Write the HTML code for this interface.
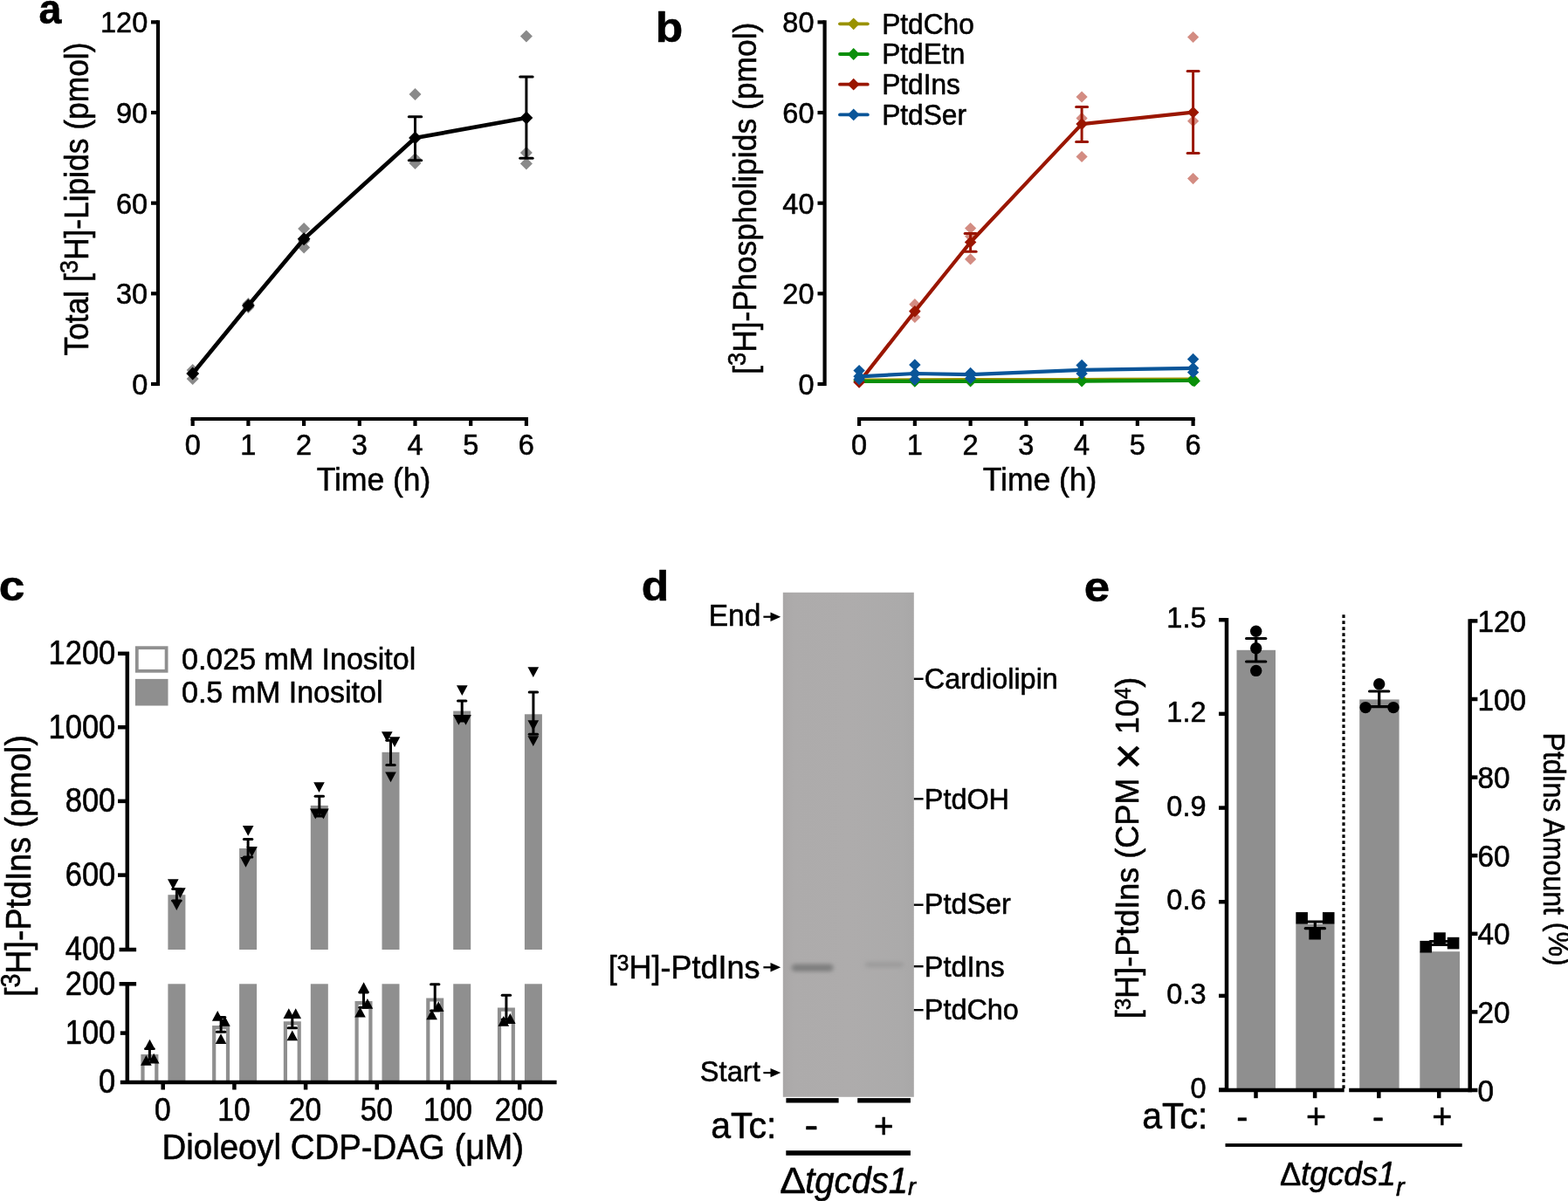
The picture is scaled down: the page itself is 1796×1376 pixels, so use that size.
<!DOCTYPE html>
<html><head><meta charset="utf-8"><title>Figure</title>
<style>
html,body{margin:0;padding:0;background:#fff;}
svg{display:block;}
text{font-family:'Liberation Sans', Arial, Helvetica, sans-serif;stroke:#000;stroke-width:0.55px;stroke-linejoin:round;}
</style></head>
<body>
<svg width="1796" height="1376" viewBox="0 0 1796 1376" font-family="'Liberation Sans', Arial, Helvetica, sans-serif">
<rect width="1796" height="1376" fill="#fff"/>
<text transform="translate(44.60 26.70) scale(0.97 1.0)" font-size="48" text-anchor="start" font-weight="bold" fill="#000" >a</text>
<line x1="181.00" y1="23.25" x2="181.00" y2="442.10" stroke="#000" stroke-width="4.2" stroke-linecap="butt" />
<line x1="173.00" y1="440.00" x2="181.00" y2="440.00" stroke="#000" stroke-width="4.2" stroke-linecap="butt" />
<text transform="translate(169.20 452.00) scale(1.0 1.04)" font-size="32.5" text-anchor="end" font-weight="normal" fill="#000" >0</text>
<line x1="173.00" y1="336.34" x2="181.00" y2="336.34" stroke="#000" stroke-width="4.2" stroke-linecap="butt" />
<text transform="translate(169.20 348.34) scale(1.0 1.04)" font-size="32.5" text-anchor="end" font-weight="normal" fill="#000" >30</text>
<line x1="173.00" y1="232.68" x2="181.00" y2="232.68" stroke="#000" stroke-width="4.2" stroke-linecap="butt" />
<text transform="translate(169.20 244.68) scale(1.0 1.04)" font-size="32.5" text-anchor="end" font-weight="normal" fill="#000" >60</text>
<line x1="173.00" y1="129.01" x2="181.00" y2="129.01" stroke="#000" stroke-width="4.2" stroke-linecap="butt" />
<text transform="translate(169.20 141.01) scale(1.0 1.04)" font-size="32.5" text-anchor="end" font-weight="normal" fill="#000" >90</text>
<line x1="173.00" y1="25.35" x2="181.00" y2="25.35" stroke="#000" stroke-width="4.2" stroke-linecap="butt" />
<text transform="translate(169.20 37.35) scale(1.0 1.04)" font-size="32.5" text-anchor="end" font-weight="normal" fill="#000" >120</text>
<line x1="218.60" y1="480.00" x2="605.00" y2="480.00" stroke="#000" stroke-width="4.2" stroke-linecap="butt" />
<line x1="220.70" y1="480.00" x2="220.70" y2="488.00" stroke="#000" stroke-width="4.2" stroke-linecap="butt" />
<text transform="translate(220.70 520.80) scale(1.0 1.04)" font-size="32.5" text-anchor="middle" font-weight="normal" fill="#000" >0</text>
<line x1="284.40" y1="480.00" x2="284.40" y2="488.00" stroke="#000" stroke-width="4.2" stroke-linecap="butt" />
<text transform="translate(284.40 520.80) scale(1.0 1.04)" font-size="32.5" text-anchor="middle" font-weight="normal" fill="#000" >1</text>
<line x1="348.10" y1="480.00" x2="348.10" y2="488.00" stroke="#000" stroke-width="4.2" stroke-linecap="butt" />
<text transform="translate(348.10 520.80) scale(1.0 1.04)" font-size="32.5" text-anchor="middle" font-weight="normal" fill="#000" >2</text>
<line x1="411.80" y1="480.00" x2="411.80" y2="488.00" stroke="#000" stroke-width="4.2" stroke-linecap="butt" />
<text transform="translate(411.80 520.80) scale(1.0 1.04)" font-size="32.5" text-anchor="middle" font-weight="normal" fill="#000" >3</text>
<line x1="475.50" y1="480.00" x2="475.50" y2="488.00" stroke="#000" stroke-width="4.2" stroke-linecap="butt" />
<text transform="translate(475.50 520.80) scale(1.0 1.04)" font-size="32.5" text-anchor="middle" font-weight="normal" fill="#000" >4</text>
<line x1="539.20" y1="480.00" x2="539.20" y2="488.00" stroke="#000" stroke-width="4.2" stroke-linecap="butt" />
<text transform="translate(539.20 520.80) scale(1.0 1.04)" font-size="32.5" text-anchor="middle" font-weight="normal" fill="#000" >5</text>
<line x1="602.90" y1="480.00" x2="602.90" y2="488.00" stroke="#000" stroke-width="4.2" stroke-linecap="butt" />
<text transform="translate(602.90 520.80) scale(1.0 1.04)" font-size="32.5" text-anchor="middle" font-weight="normal" fill="#000" >6</text>
<text transform="translate(428.00 561.50) scale(1.0 1.04)" font-size="35.4" text-anchor="middle" font-weight="normal" fill="#000" >Time (h)</text>
<text transform="translate(100.90 228.00) rotate(-90) scale(0.969 1.04)" font-size="36.5" text-anchor="middle">Total [<tspan font-size="28" dy="-11.2">3</tspan><tspan dy="11.2">H]-Lipids (pmol)</tspan></text>
<path d="M220.70 417.00L227.70 424.00L220.70 431.00L213.70 424.00Z" fill="#8a8a8a"/>
<path d="M220.70 427.00L227.70 434.00L220.70 441.00L213.70 434.00Z" fill="#8a8a8a"/>
<path d="M220.70 421.00L227.70 428.00L220.70 435.00L213.70 428.00Z" fill="#8a8a8a"/>
<path d="M284.40 341.00L291.40 348.00L284.40 355.00L277.40 348.00Z" fill="#8a8a8a"/>
<path d="M284.40 345.00L291.40 352.00L284.40 359.00L277.40 352.00Z" fill="#8a8a8a"/>
<path d="M348.10 255.00L355.10 262.00L348.10 269.00L341.10 262.00Z" fill="#8a8a8a"/>
<path d="M348.10 276.50L355.10 283.50L348.10 290.50L341.10 283.50Z" fill="#8a8a8a"/>
<path d="M348.10 269.00L355.10 276.00L348.10 283.00L341.10 276.00Z" fill="#8a8a8a"/>
<path d="M475.50 101.00L482.50 108.00L475.50 115.00L468.50 108.00Z" fill="#8a8a8a"/>
<path d="M475.50 175.00L482.50 182.00L475.50 189.00L468.50 182.00Z" fill="#8a8a8a"/>
<path d="M475.50 180.00L482.50 187.00L475.50 194.00L468.50 187.00Z" fill="#8a8a8a"/>
<path d="M602.90 34.50L609.90 41.50L602.90 48.50L595.90 41.50Z" fill="#8a8a8a"/>
<path d="M602.90 168.00L609.90 175.00L602.90 182.00L595.90 175.00Z" fill="#8a8a8a"/>
<path d="M602.90 180.50L609.90 187.50L602.90 194.50L595.90 187.50Z" fill="#8a8a8a"/>
<polyline points="220.70,428.00 284.40,350.00 348.10,273.75 475.50,158.00 602.90,135.00" fill="none" stroke="#000" stroke-width="4.7" stroke-linejoin="round"/>
<line x1="475.50" y1="133.75" x2="475.50" y2="183.75" stroke="#000" stroke-width="3" stroke-linecap="butt" />
<line x1="468.30" y1="133.75" x2="482.70" y2="133.75" stroke="#000" stroke-width="3" stroke-linecap="round" />
<line x1="468.30" y1="183.75" x2="482.70" y2="183.75" stroke="#000" stroke-width="3" stroke-linecap="round" />
<line x1="602.90" y1="88.00" x2="602.90" y2="181.25" stroke="#000" stroke-width="3" stroke-linecap="butt" />
<line x1="595.70" y1="88.00" x2="610.10" y2="88.00" stroke="#000" stroke-width="3" stroke-linecap="round" />
<line x1="595.70" y1="181.25" x2="610.10" y2="181.25" stroke="#000" stroke-width="3" stroke-linecap="round" />
<path d="M220.70 420.60L228.10 428.00L220.70 435.40L213.30 428.00Z" fill="#000"/>
<path d="M284.40 342.60L291.80 350.00L284.40 357.40L277.00 350.00Z" fill="#000"/>
<path d="M348.10 266.35L355.50 273.75L348.10 281.15L340.70 273.75Z" fill="#000"/>
<path d="M475.50 150.60L482.90 158.00L475.50 165.40L468.10 158.00Z" fill="#000"/>
<path d="M602.90 127.60L610.30 135.00L602.90 142.40L595.50 135.00Z" fill="#000"/>
<text transform="translate(750.80 47.80) scale(1.075 1.0)" font-size="48" text-anchor="start" font-weight="bold" fill="#000" >b</text>
<line x1="944.60" y1="23.30" x2="944.60" y2="442.10" stroke="#000" stroke-width="4.2" stroke-linecap="butt" />
<line x1="936.50" y1="440.00" x2="944.60" y2="440.00" stroke="#000" stroke-width="4.2" stroke-linecap="butt" />
<text transform="translate(932.50 452.00) scale(1.0 1.04)" font-size="32.5" text-anchor="end" font-weight="normal" fill="#000" >0</text>
<line x1="936.50" y1="336.35" x2="944.60" y2="336.35" stroke="#000" stroke-width="4.2" stroke-linecap="butt" />
<text transform="translate(932.50 348.35) scale(1.0 1.04)" font-size="32.5" text-anchor="end" font-weight="normal" fill="#000" >20</text>
<line x1="936.50" y1="232.70" x2="944.60" y2="232.70" stroke="#000" stroke-width="4.2" stroke-linecap="butt" />
<text transform="translate(932.50 244.70) scale(1.0 1.04)" font-size="32.5" text-anchor="end" font-weight="normal" fill="#000" >40</text>
<line x1="936.50" y1="129.05" x2="944.60" y2="129.05" stroke="#000" stroke-width="4.2" stroke-linecap="butt" />
<text transform="translate(932.50 141.05) scale(1.0 1.04)" font-size="32.5" text-anchor="end" font-weight="normal" fill="#000" >60</text>
<line x1="936.50" y1="25.40" x2="944.60" y2="25.40" stroke="#000" stroke-width="4.2" stroke-linecap="butt" />
<text transform="translate(932.50 37.40) scale(1.0 1.04)" font-size="32.5" text-anchor="end" font-weight="normal" fill="#000" >80</text>
<line x1="982.00" y1="480.00" x2="1368.70" y2="480.00" stroke="#000" stroke-width="4.2" stroke-linecap="butt" />
<line x1="984.10" y1="480.00" x2="984.10" y2="488.00" stroke="#000" stroke-width="4.2" stroke-linecap="butt" />
<text transform="translate(984.10 520.80) scale(1.0 1.04)" font-size="32.5" text-anchor="middle" font-weight="normal" fill="#000" >0</text>
<line x1="1047.85" y1="480.00" x2="1047.85" y2="488.00" stroke="#000" stroke-width="4.2" stroke-linecap="butt" />
<text transform="translate(1047.85 520.80) scale(1.0 1.04)" font-size="32.5" text-anchor="middle" font-weight="normal" fill="#000" >1</text>
<line x1="1111.60" y1="480.00" x2="1111.60" y2="488.00" stroke="#000" stroke-width="4.2" stroke-linecap="butt" />
<text transform="translate(1111.60 520.80) scale(1.0 1.04)" font-size="32.5" text-anchor="middle" font-weight="normal" fill="#000" >2</text>
<line x1="1175.35" y1="480.00" x2="1175.35" y2="488.00" stroke="#000" stroke-width="4.2" stroke-linecap="butt" />
<text transform="translate(1175.35 520.80) scale(1.0 1.04)" font-size="32.5" text-anchor="middle" font-weight="normal" fill="#000" >3</text>
<line x1="1239.10" y1="480.00" x2="1239.10" y2="488.00" stroke="#000" stroke-width="4.2" stroke-linecap="butt" />
<text transform="translate(1239.10 520.80) scale(1.0 1.04)" font-size="32.5" text-anchor="middle" font-weight="normal" fill="#000" >4</text>
<line x1="1302.85" y1="480.00" x2="1302.85" y2="488.00" stroke="#000" stroke-width="4.2" stroke-linecap="butt" />
<text transform="translate(1302.85 520.80) scale(1.0 1.04)" font-size="32.5" text-anchor="middle" font-weight="normal" fill="#000" >5</text>
<line x1="1366.60" y1="480.00" x2="1366.60" y2="488.00" stroke="#000" stroke-width="4.2" stroke-linecap="butt" />
<text transform="translate(1366.60 520.80) scale(1.0 1.04)" font-size="32.5" text-anchor="middle" font-weight="normal" fill="#000" >6</text>
<text transform="translate(1191.00 561.50) scale(1.0 1.04)" font-size="35.4" text-anchor="middle" font-weight="normal" fill="#000" >Time (h)</text>
<text transform="translate(865.80 227.20) rotate(-90) scale(0.977 1.04)" font-size="36.3" text-anchor="middle">[<tspan font-size="27.8" dy="-11.1">3</tspan><tspan dy="11.1">H]-Phospholipids (pmol)</tspan></text>
<line x1="962.00" y1="27.30" x2="993.80" y2="27.30" stroke="#999200" stroke-width="3.8" stroke-linecap="round" />
<path d="M977.70 20.40L984.60 27.30L977.70 34.20L970.80 27.30Z" fill="#999200"/>
<text transform="translate(1010.20 38.50) scale(0.99 1.06)" font-size="32" text-anchor="start" font-weight="normal" fill="#000" >PtdCho</text>
<line x1="962.00" y1="62.00" x2="993.80" y2="62.00" stroke="#0a8f0a" stroke-width="3.8" stroke-linecap="round" />
<path d="M977.70 55.10L984.60 62.00L977.70 68.90L970.80 62.00Z" fill="#0a8f0a"/>
<text transform="translate(1010.20 73.20) scale(0.99 1.06)" font-size="32" text-anchor="start" font-weight="normal" fill="#000" >PtdEtn</text>
<line x1="962.00" y1="96.70" x2="993.80" y2="96.70" stroke="#9a1600" stroke-width="3.8" stroke-linecap="round" />
<path d="M977.70 89.80L984.60 96.70L977.70 103.60L970.80 96.70Z" fill="#9a1600"/>
<text transform="translate(1010.20 107.90) scale(0.99 1.06)" font-size="32" text-anchor="start" font-weight="normal" fill="#000" >PtdIns</text>
<line x1="962.00" y1="131.40" x2="993.80" y2="131.40" stroke="#0a5599" stroke-width="3.8" stroke-linecap="round" />
<path d="M977.70 124.50L984.60 131.40L977.70 138.30L970.80 131.40Z" fill="#0a5599"/>
<text transform="translate(1010.20 142.60) scale(0.99 1.06)" font-size="32" text-anchor="start" font-weight="normal" fill="#000" >PtdSer</text>
<path d="M1047.85 342.10L1054.45 348.70L1047.85 355.30L1041.25 348.70Z" fill="#d38c82"/>
<path d="M1047.85 356.80L1054.45 363.40L1047.85 370.00L1041.25 363.40Z" fill="#d38c82"/>
<path d="M1047.85 349.40L1054.45 356.00L1047.85 362.60L1041.25 356.00Z" fill="#d38c82"/>
<path d="M1111.60 254.90L1118.20 261.50L1111.60 268.10L1105.00 261.50Z" fill="#d38c82"/>
<path d="M1111.60 264.20L1118.20 270.80L1111.60 277.40L1105.00 270.80Z" fill="#d38c82"/>
<path d="M1111.60 290.30L1118.20 296.90L1111.60 303.50L1105.00 296.90Z" fill="#d38c82"/>
<path d="M1239.10 104.40L1245.70 111.00L1239.10 117.60L1232.50 111.00Z" fill="#d38c82"/>
<path d="M1239.10 128.80L1245.70 135.40L1239.10 142.00L1232.50 135.40Z" fill="#d38c82"/>
<path d="M1239.10 172.90L1245.70 179.50L1239.10 186.10L1232.50 179.50Z" fill="#d38c82"/>
<path d="M1366.60 35.90L1373.20 42.50L1366.60 49.10L1360.00 42.50Z" fill="#d38c82"/>
<path d="M1366.60 132.10L1373.20 138.70L1366.60 145.30L1360.00 138.70Z" fill="#d38c82"/>
<path d="M1366.60 198.00L1373.20 204.60L1366.60 211.20L1360.00 204.60Z" fill="#d38c82"/>
<polyline points="984.10,435.60 1047.85,435.40 1111.60,435.20 1239.10,435.00 1366.60,434.60" fill="none" stroke="#999200" stroke-width="4.2" stroke-linejoin="round"/>
<path d="M984.10 428.80L990.90 435.60L984.10 442.40L977.30 435.60Z" fill="#999200"/>
<path d="M1047.85 428.60L1054.65 435.40L1047.85 442.20L1041.05 435.40Z" fill="#999200"/>
<path d="M1111.60 428.40L1118.40 435.20L1111.60 442.00L1104.80 435.20Z" fill="#999200"/>
<path d="M1239.10 428.20L1245.90 435.00L1239.10 441.80L1232.30 435.00Z" fill="#999200"/>
<path d="M1366.60 427.80L1373.40 434.60L1366.60 441.40L1359.80 434.60Z" fill="#999200"/>
<polyline points="984.10,437.00 1047.85,436.90 1111.60,436.80 1239.10,436.60 1366.60,436.00" fill="none" stroke="#0a8f0a" stroke-width="4.2" stroke-linejoin="round"/>
<path d="M984.10 430.20L990.90 437.00L984.10 443.80L977.30 437.00Z" fill="#0a8f0a"/>
<path d="M1047.85 430.10L1054.65 436.90L1047.85 443.70L1041.05 436.90Z" fill="#0a8f0a"/>
<path d="M1111.60 430.00L1118.40 436.80L1111.60 443.60L1104.80 436.80Z" fill="#0a8f0a"/>
<path d="M1239.10 429.80L1245.90 436.60L1239.10 443.40L1232.30 436.60Z" fill="#0a8f0a"/>
<path d="M1366.60 429.20L1373.40 436.00L1366.60 442.80L1359.80 436.00Z" fill="#0a8f0a"/>
<path d="M1368.10 429.70L1374.90 436.50L1368.10 443.30L1361.30 436.50Z" fill="#0a8f0a"/>
<path d="M1365.60 428.70L1372.40 435.50L1365.60 442.30L1358.80 435.50Z" fill="#0a8f0a"/>
<polyline points="984.10,438.00 1047.85,356.70 1111.60,277.50 1239.10,142.10 1366.60,128.70" fill="none" stroke="#9a1600" stroke-width="4.2" stroke-linejoin="round"/>
<line x1="1111.60" y1="267.50" x2="1111.60" y2="288.20" stroke="#9a1600" stroke-width="3" stroke-linecap="butt" />
<line x1="1105.10" y1="267.50" x2="1118.10" y2="267.50" stroke="#9a1600" stroke-width="3" stroke-linecap="round" />
<line x1="1105.10" y1="288.20" x2="1118.10" y2="288.20" stroke="#9a1600" stroke-width="3" stroke-linecap="round" />
<line x1="1239.10" y1="122.40" x2="1239.10" y2="162.50" stroke="#9a1600" stroke-width="3" stroke-linecap="butt" />
<line x1="1232.60" y1="122.40" x2="1245.60" y2="122.40" stroke="#9a1600" stroke-width="3" stroke-linecap="round" />
<line x1="1232.60" y1="162.50" x2="1245.60" y2="162.50" stroke="#9a1600" stroke-width="3" stroke-linecap="round" />
<line x1="1366.60" y1="81.60" x2="1366.60" y2="175.50" stroke="#9a1600" stroke-width="3" stroke-linecap="butt" />
<line x1="1360.10" y1="81.60" x2="1373.10" y2="81.60" stroke="#9a1600" stroke-width="3" stroke-linecap="round" />
<line x1="1360.10" y1="175.50" x2="1373.10" y2="175.50" stroke="#9a1600" stroke-width="3" stroke-linecap="round" />
<path d="M984.10 431.20L990.90 438.00L984.10 444.80L977.30 438.00Z" fill="#9a1600"/>
<path d="M1047.85 349.90L1054.65 356.70L1047.85 363.50L1041.05 356.70Z" fill="#9a1600"/>
<path d="M1111.60 270.70L1118.40 277.50L1111.60 284.30L1104.80 277.50Z" fill="#9a1600"/>
<path d="M1239.10 135.30L1245.90 142.10L1239.10 148.90L1232.30 142.10Z" fill="#9a1600"/>
<path d="M1366.60 121.90L1373.40 128.70L1366.60 135.50L1359.80 128.70Z" fill="#9a1600"/>
<path d="M984.10 417.90L990.80 424.60L984.10 431.30L977.40 424.60Z" fill="#0a5599"/>
<path d="M984.10 427.90L990.80 434.60L984.10 441.30L977.40 434.60Z" fill="#0a5599"/>
<path d="M1047.85 411.30L1054.55 418.00L1047.85 424.70L1041.15 418.00Z" fill="#0a5599"/>
<path d="M1047.85 428.30L1054.55 435.00L1047.85 441.70L1041.15 435.00Z" fill="#0a5599"/>
<path d="M1111.60 420.80L1118.30 427.50L1111.60 434.20L1104.90 427.50Z" fill="#0a5599"/>
<path d="M1111.60 426.90L1118.30 433.60L1111.60 440.30L1104.90 433.60Z" fill="#0a5599"/>
<path d="M1239.10 411.80L1245.80 418.50L1239.10 425.20L1232.40 418.50Z" fill="#0a5599"/>
<path d="M1239.10 421.30L1245.80 428.00L1239.10 434.70L1232.40 428.00Z" fill="#0a5599"/>
<path d="M1366.60 404.80L1373.30 411.50L1366.60 418.20L1359.90 411.50Z" fill="#0a5599"/>
<path d="M1366.60 419.90L1373.30 426.60L1366.60 433.30L1359.90 426.60Z" fill="#0a5599"/>
<polyline points="984.10,431.30 1047.85,428.00 1111.60,429.20 1239.10,423.80 1366.60,421.80" fill="none" stroke="#0a5599" stroke-width="4.2" stroke-linejoin="round"/>
<path d="M984.10 424.50L990.90 431.30L984.10 438.10L977.30 431.30Z" fill="#0a5599"/>
<path d="M1047.85 421.20L1054.65 428.00L1047.85 434.80L1041.05 428.00Z" fill="#0a5599"/>
<path d="M1111.60 422.40L1118.40 429.20L1111.60 436.00L1104.80 429.20Z" fill="#0a5599"/>
<path d="M1239.10 417.00L1245.90 423.80L1239.10 430.60L1232.30 423.80Z" fill="#0a5599"/>
<path d="M1366.60 415.00L1373.40 421.80L1366.60 428.60L1359.80 421.80Z" fill="#0a5599"/>
<text transform="translate(-1.20 688.30) scale(1.11 1.02)" font-size="48" text-anchor="start" font-weight="bold" fill="#000" >c</text>
<rect x="192.40" y="1127.30" width="20.00" height="110.70" fill="#8f8f8f" />
<rect x="192.40" y="1025.20" width="20.00" height="62.80" fill="#8f8f8f" />
<path d="M163.50 1238 V1210.10 H179.30 V1238" fill="none" stroke="#8f8f8f" stroke-width="4.2"/>
<rect x="274.10" y="1127.30" width="20.00" height="110.70" fill="#8f8f8f" />
<rect x="274.10" y="972.00" width="20.00" height="116.00" fill="#8f8f8f" />
<path d="M245.20 1238 V1177.10 H261.00 V1238" fill="none" stroke="#8f8f8f" stroke-width="4.2"/>
<rect x="355.80" y="1127.30" width="20.00" height="110.70" fill="#8f8f8f" />
<rect x="355.80" y="922.90" width="20.00" height="165.10" fill="#8f8f8f" />
<path d="M326.90 1238 V1172.40 H342.70 V1238" fill="none" stroke="#8f8f8f" stroke-width="4.2"/>
<rect x="437.50" y="1127.30" width="20.00" height="110.70" fill="#8f8f8f" />
<rect x="437.50" y="861.80" width="20.00" height="226.20" fill="#8f8f8f" />
<path d="M408.60 1238 V1149.20 H424.40 V1238" fill="none" stroke="#8f8f8f" stroke-width="4.2"/>
<rect x="519.20" y="1127.30" width="20.00" height="110.70" fill="#8f8f8f" />
<rect x="519.20" y="814.60" width="20.00" height="273.40" fill="#8f8f8f" />
<path d="M490.30 1238 V1145.50 H506.10 V1238" fill="none" stroke="#8f8f8f" stroke-width="4.2"/>
<rect x="600.90" y="1127.30" width="20.00" height="110.70" fill="#8f8f8f" />
<rect x="600.90" y="818.30" width="20.00" height="269.70" fill="#8f8f8f" />
<path d="M572.00 1238 V1156.70 H587.80 V1238" fill="none" stroke="#8f8f8f" stroke-width="4.2"/>
<line x1="145.80" y1="747.00" x2="145.80" y2="1088.00" stroke="#000" stroke-width="4.5" stroke-linecap="butt" />
<line x1="136.60" y1="1088.00" x2="156.10" y2="1088.00" stroke="#000" stroke-width="4.5" stroke-linecap="butt" />
<line x1="145.80" y1="1127.30" x2="145.80" y2="1240.00" stroke="#000" stroke-width="4.5" stroke-linecap="butt" />
<line x1="136.60" y1="1127.30" x2="156.10" y2="1127.30" stroke="#000" stroke-width="4.5" stroke-linecap="butt" />
<line x1="135.00" y1="1002.60" x2="145.80" y2="1002.60" stroke="#000" stroke-width="4.5" stroke-linecap="butt" />
<line x1="135.00" y1="917.90" x2="145.80" y2="917.90" stroke="#000" stroke-width="4.5" stroke-linecap="butt" />
<line x1="135.00" y1="833.20" x2="145.80" y2="833.20" stroke="#000" stroke-width="4.5" stroke-linecap="butt" />
<line x1="135.00" y1="748.80" x2="148.05" y2="748.80" stroke="#000" stroke-width="4.5" stroke-linecap="butt" />
<line x1="137.80" y1="1183.60" x2="145.80" y2="1183.60" stroke="#000" stroke-width="4.5" stroke-linecap="butt" />
<text transform="translate(132.30 1099.80) scale(1.0 1.1)" font-size="34.5" text-anchor="end" font-weight="normal" fill="#000" >400</text>
<text transform="translate(132.30 1015.10) scale(1.0 1.1)" font-size="34.5" text-anchor="end" font-weight="normal" fill="#000" >600</text>
<text transform="translate(132.30 930.40) scale(1.0 1.1)" font-size="34.5" text-anchor="end" font-weight="normal" fill="#000" >800</text>
<text transform="translate(132.30 845.70) scale(1.0 1.1)" font-size="34.5" text-anchor="end" font-weight="normal" fill="#000" >1000</text>
<text transform="translate(132.30 761.00) scale(1.0 1.1)" font-size="34.5" text-anchor="end" font-weight="normal" fill="#000" >1200</text>
<text transform="translate(132.30 1252.30) scale(1.0 1.1)" font-size="34.5" text-anchor="end" font-weight="normal" fill="#000" >0</text>
<text transform="translate(132.30 1196.10) scale(1.0 1.1)" font-size="34.5" text-anchor="end" font-weight="normal" fill="#000" >100</text>
<text transform="translate(132.30 1139.90) scale(1.0 1.1)" font-size="34.5" text-anchor="end" font-weight="normal" fill="#000" >200</text>
<line x1="137.80" y1="1240.00" x2="637.60" y2="1240.00" stroke="#000" stroke-width="4.5" stroke-linecap="butt" />
<line x1="186.70" y1="1240.00" x2="186.70" y2="1248.50" stroke="#000" stroke-width="4.5" stroke-linecap="butt" />
<text transform="translate(186.20 1284.00) scale(1.0 1.08)" font-size="33.5" text-anchor="middle" font-weight="normal" fill="#000" >0</text>
<line x1="268.40" y1="1240.00" x2="268.40" y2="1248.50" stroke="#000" stroke-width="4.5" stroke-linecap="butt" />
<text transform="translate(267.90 1284.00) scale(1.0 1.08)" font-size="33.5" text-anchor="middle" font-weight="normal" fill="#000" >10</text>
<line x1="350.10" y1="1240.00" x2="350.10" y2="1248.50" stroke="#000" stroke-width="4.5" stroke-linecap="butt" />
<text transform="translate(349.60 1284.00) scale(1.0 1.08)" font-size="33.5" text-anchor="middle" font-weight="normal" fill="#000" >20</text>
<line x1="431.80" y1="1240.00" x2="431.80" y2="1248.50" stroke="#000" stroke-width="4.5" stroke-linecap="butt" />
<text transform="translate(431.30 1284.00) scale(1.0 1.08)" font-size="33.5" text-anchor="middle" font-weight="normal" fill="#000" >50</text>
<line x1="513.50" y1="1240.00" x2="513.50" y2="1248.50" stroke="#000" stroke-width="4.5" stroke-linecap="butt" />
<text transform="translate(513.00 1284.00) scale(1.0 1.08)" font-size="33.5" text-anchor="middle" font-weight="normal" fill="#000" >100</text>
<line x1="595.20" y1="1240.00" x2="595.20" y2="1248.50" stroke="#000" stroke-width="4.5" stroke-linecap="butt" />
<text transform="translate(594.70 1284.00) scale(1.0 1.08)" font-size="33.5" text-anchor="middle" font-weight="normal" fill="#000" >200</text>
<text transform="translate(392.80 1328.30) scale(1.0 1.04)" font-size="38.4" text-anchor="middle" font-weight="normal" fill="#000" >Dioleoyl CDP-DAG (&#956;M)</text>
<text transform="translate(35.20 992.00) rotate(-90) scale(0.956 1.04)" font-size="39.3" text-anchor="middle">[<tspan font-size="30" dy="-12">3</tspan><tspan dy="12">H]-PtdIns (pmol)</tspan></text>
<rect x="156.80" y="742.20" width="33.80" height="26.60" fill="#fff" stroke="#8f8f8f" stroke-width="3.8"/>
<rect x="154.90" y="777.90" width="37.60" height="30.60" fill="#8f8f8f" />
<text transform="translate(208.00 766.70) scale(1.0 1.04)" font-size="34" text-anchor="start" font-weight="normal" fill="#000" >0.025 mM Inositol</text>
<text transform="translate(208.00 804.70) scale(1.0 1.04)" font-size="34" text-anchor="start" font-weight="normal" fill="#000" >0.5 mM Inositol</text>
<line x1="171.40" y1="1201.40" x2="171.40" y2="1214.00" stroke="#000" stroke-width="3" stroke-linecap="butt" />
<line x1="166.70" y1="1201.40" x2="176.10" y2="1201.40" stroke="#000" stroke-width="3" stroke-linecap="round" />
<line x1="166.70" y1="1214.00" x2="176.10" y2="1214.00" stroke="#000" stroke-width="3" stroke-linecap="round" />
<path d="M171.50 1190.70L177.80 1202.50L165.20 1202.50Z" fill="#000"/>
<path d="M167.40 1209.00L173.70 1220.80L161.10 1220.80Z" fill="#000"/>
<path d="M176.20 1206.80L182.50 1218.60L169.90 1218.60Z" fill="#000"/>
<line x1="253.10" y1="1165.40" x2="253.10" y2="1182.30" stroke="#000" stroke-width="3" stroke-linecap="butt" />
<line x1="248.40" y1="1165.40" x2="257.80" y2="1165.40" stroke="#000" stroke-width="3" stroke-linecap="round" />
<line x1="248.40" y1="1182.30" x2="257.80" y2="1182.30" stroke="#000" stroke-width="3" stroke-linecap="round" />
<path d="M249.20 1158.00L255.50 1169.80L242.90 1169.80Z" fill="#000"/>
<path d="M257.40 1164.00L263.70 1175.80L251.10 1175.80Z" fill="#000"/>
<path d="M253.00 1184.20L259.30 1196.00L246.70 1196.00Z" fill="#000"/>
<line x1="334.80" y1="1165.60" x2="334.80" y2="1177.80" stroke="#000" stroke-width="3" stroke-linecap="butt" />
<line x1="330.10" y1="1165.60" x2="339.50" y2="1165.60" stroke="#000" stroke-width="3" stroke-linecap="round" />
<line x1="330.10" y1="1177.80" x2="339.50" y2="1177.80" stroke="#000" stroke-width="3" stroke-linecap="round" />
<path d="M330.80 1155.30L337.10 1167.10L324.50 1167.10Z" fill="#000"/>
<path d="M338.70 1155.30L345.00 1167.10L332.40 1167.10Z" fill="#000"/>
<path d="M334.80 1180.50L341.10 1192.30L328.50 1192.30Z" fill="#000"/>
<line x1="416.50" y1="1137.00" x2="416.50" y2="1154.20" stroke="#000" stroke-width="3" stroke-linecap="butt" />
<line x1="411.80" y1="1137.00" x2="421.20" y2="1137.00" stroke="#000" stroke-width="3" stroke-linecap="round" />
<line x1="411.80" y1="1154.20" x2="421.20" y2="1154.20" stroke="#000" stroke-width="3" stroke-linecap="round" />
<path d="M416.60 1125.20L422.90 1137.00L410.30 1137.00Z" fill="#000"/>
<path d="M420.90 1143.90L427.20 1155.70L414.60 1155.70Z" fill="#000"/>
<path d="M412.50 1153.80L418.80 1165.60L406.20 1165.60Z" fill="#000"/>
<line x1="498.20" y1="1127.70" x2="498.20" y2="1158.00" stroke="#000" stroke-width="3" stroke-linecap="butt" />
<line x1="493.50" y1="1127.70" x2="502.90" y2="1127.70" stroke="#000" stroke-width="3" stroke-linecap="round" />
<line x1="493.50" y1="1158.00" x2="502.90" y2="1158.00" stroke="#000" stroke-width="3" stroke-linecap="round" />
<path d="M502.20 1147.30L508.50 1159.10L495.90 1159.10Z" fill="#000"/>
<path d="M494.60 1156.40L500.90 1168.20L488.30 1168.20Z" fill="#000"/>
<line x1="579.90" y1="1140.20" x2="579.90" y2="1168.00" stroke="#000" stroke-width="3" stroke-linecap="butt" />
<line x1="575.20" y1="1140.20" x2="584.60" y2="1140.20" stroke="#000" stroke-width="3" stroke-linecap="round" />
<line x1="575.20" y1="1168.00" x2="584.60" y2="1168.00" stroke="#000" stroke-width="3" stroke-linecap="round" />
<path d="M576.80 1163.90L583.10 1175.70L570.50 1175.70Z" fill="#000"/>
<path d="M584.30 1161.10L590.60 1172.90L578.00 1172.90Z" fill="#000"/>
<line x1="202.40" y1="1018.50" x2="202.40" y2="1032.00" stroke="#000" stroke-width="3" stroke-linecap="butt" />
<line x1="197.70" y1="1018.50" x2="207.10" y2="1018.50" stroke="#000" stroke-width="3" stroke-linecap="round" />
<line x1="197.70" y1="1032.00" x2="207.10" y2="1032.00" stroke="#000" stroke-width="3" stroke-linecap="round" />
<path d="M192.00 1007.20L204.60 1007.20L198.30 1019.00Z" fill="#000"/>
<path d="M200.10 1017.20L212.70 1017.20L206.40 1029.00Z" fill="#000"/>
<path d="M196.00 1031.10L208.60 1031.10L202.30 1042.90Z" fill="#000"/>
<line x1="284.10" y1="961.50" x2="284.10" y2="982.00" stroke="#000" stroke-width="3" stroke-linecap="butt" />
<line x1="279.40" y1="961.50" x2="288.80" y2="961.50" stroke="#000" stroke-width="3" stroke-linecap="round" />
<line x1="279.40" y1="982.00" x2="288.80" y2="982.00" stroke="#000" stroke-width="3" stroke-linecap="round" />
<path d="M277.90 946.00L290.50 946.00L284.20 957.80Z" fill="#000"/>
<path d="M282.20 970.00L294.80 970.00L288.50 981.80Z" fill="#000"/>
<path d="M275.20 982.00L287.80 982.00L281.50 993.80Z" fill="#000"/>
<line x1="365.80" y1="912.20" x2="365.80" y2="935.00" stroke="#000" stroke-width="3" stroke-linecap="butt" />
<line x1="361.10" y1="912.20" x2="370.50" y2="912.20" stroke="#000" stroke-width="3" stroke-linecap="round" />
<line x1="361.10" y1="935.00" x2="370.50" y2="935.00" stroke="#000" stroke-width="3" stroke-linecap="round" />
<path d="M359.20 896.20L371.80 896.20L365.50 908.00Z" fill="#000"/>
<path d="M355.00 926.60L367.60 926.60L361.30 938.40Z" fill="#000"/>
<path d="M364.10 926.60L376.70 926.60L370.40 938.40Z" fill="#000"/>
<line x1="447.50" y1="848.20" x2="447.50" y2="876.60" stroke="#000" stroke-width="3" stroke-linecap="butt" />
<line x1="442.80" y1="848.20" x2="452.20" y2="848.20" stroke="#000" stroke-width="3" stroke-linecap="round" />
<line x1="442.80" y1="876.60" x2="452.20" y2="876.60" stroke="#000" stroke-width="3" stroke-linecap="round" />
<path d="M437.00 838.30L449.60 838.30L443.30 850.10Z" fill="#000"/>
<path d="M445.70 844.30L458.30 844.30L452.00 856.10Z" fill="#000"/>
<path d="M441.20 884.50L453.80 884.50L447.50 896.30Z" fill="#000"/>
<line x1="529.20" y1="803.00" x2="529.20" y2="826.00" stroke="#000" stroke-width="3" stroke-linecap="butt" />
<line x1="524.50" y1="803.00" x2="533.90" y2="803.00" stroke="#000" stroke-width="3" stroke-linecap="round" />
<line x1="524.50" y1="826.00" x2="533.90" y2="826.00" stroke="#000" stroke-width="3" stroke-linecap="round" />
<path d="M523.00 785.20L535.60 785.20L529.30 797.00Z" fill="#000"/>
<path d="M519.10 819.00L531.70 819.00L525.40 830.80Z" fill="#000"/>
<path d="M527.20 819.00L539.80 819.00L533.50 830.80Z" fill="#000"/>
<line x1="610.90" y1="793.10" x2="610.90" y2="841.30" stroke="#000" stroke-width="3" stroke-linecap="butt" />
<line x1="606.20" y1="793.10" x2="615.60" y2="793.10" stroke="#000" stroke-width="3" stroke-linecap="round" />
<line x1="606.20" y1="841.30" x2="615.60" y2="841.30" stroke="#000" stroke-width="3" stroke-linecap="round" />
<path d="M604.50 764.20L617.10 764.20L610.80 776.00Z" fill="#000"/>
<path d="M604.50 825.20L617.10 825.20L610.80 837.00Z" fill="#000"/>
<path d="M604.50 843.30L617.10 843.30L610.80 855.10Z" fill="#000"/>
<text transform="translate(734.70 688.00) scale(1.075 0.99)" font-size="48" text-anchor="start" font-weight="bold" fill="#000" >d</text>
<defs><linearGradient id="plate" x1="0" y1="0" x2="1" y2="0"><stop offset="0" stop-color="#a9a7a7"/><stop offset="0.08" stop-color="#adabab"/><stop offset="0.5" stop-color="#aeacac"/><stop offset="0.92" stop-color="#abaaaa"/><stop offset="1" stop-color="#a8a7a7"/></linearGradient><filter id="blur2" x="-20%" y="-100%" width="140%" height="300%"><feGaussianBlur stdDeviation="2.4 2.2"/></filter></defs>
<rect x="896.80" y="678.80" width="150.00" height="578.00" fill="url(#plate)" />
<rect x="906.8" y="1104.5" width="47.5" height="8.5" rx="4" fill="#7f7f7f" filter="url(#blur2)"/>
<rect x="991" y="1102" width="44" height="6.5" rx="3" fill="#9d9c9c" filter="url(#blur2)"/>
<text transform="translate(871.30 717.10) scale(1.0 1.04)" font-size="33.5" text-anchor="end" font-weight="normal" fill="#000" >End</text>
<line x1="874.40" y1="706.70" x2="884.00" y2="706.70" stroke="#000" stroke-width="2.2" stroke-linecap="butt" />
<path d="M894.2 706.70L882.5 701.50L882.5 711.90Z" fill="#000"/>
<text transform="translate(870.50 1120.60) scale(1.0 1.04)" font-size="36" text-anchor="end" font-weight="normal" fill="#000" >[<tspan font-size="24.5" dy="-8.3">3</tspan><tspan dy="8.3">H]-PtdIns</tspan></text>
<line x1="874.40" y1="1108.30" x2="884.00" y2="1108.30" stroke="#000" stroke-width="2.2" stroke-linecap="butt" />
<path d="M894.2 1108.30L882.5 1103.10L882.5 1113.50Z" fill="#000"/>
<text transform="translate(870.70 1239.30) scale(1.0 1.04)" font-size="32.6" text-anchor="end" font-weight="normal" fill="#000" >Start</text>
<line x1="874.40" y1="1229.10" x2="884.00" y2="1229.10" stroke="#000" stroke-width="2.2" stroke-linecap="butt" />
<path d="M894.2 1229.10L882.5 1223.90L882.5 1234.30Z" fill="#000"/>
<line x1="1046.80" y1="777.80" x2="1057.60" y2="777.80" stroke="#000" stroke-width="2.4" stroke-linecap="butt" />
<text transform="translate(1058.80 789.40) scale(1.0 1.04)" font-size="32.4" text-anchor="start" font-weight="normal" fill="#000" >Cardiolipin</text>
<line x1="1046.80" y1="915.30" x2="1057.60" y2="915.30" stroke="#000" stroke-width="2.4" stroke-linecap="butt" />
<text transform="translate(1058.80 927.10) scale(1.0 1.04)" font-size="32.4" text-anchor="start" font-weight="normal" fill="#000" >PtdOH</text>
<line x1="1046.80" y1="1036.70" x2="1057.60" y2="1036.70" stroke="#000" stroke-width="2.4" stroke-linecap="butt" />
<text transform="translate(1058.80 1047.30) scale(1.0 1.04)" font-size="32.4" text-anchor="start" font-weight="normal" fill="#000" >PtdSer</text>
<line x1="1046.80" y1="1107.20" x2="1057.60" y2="1107.20" stroke="#000" stroke-width="2.4" stroke-linecap="butt" />
<text transform="translate(1058.80 1118.70) scale(1.0 1.04)" font-size="32.4" text-anchor="start" font-weight="normal" fill="#000" >PtdIns</text>
<line x1="1046.80" y1="1157.20" x2="1057.60" y2="1157.20" stroke="#000" stroke-width="2.4" stroke-linecap="butt" />
<text transform="translate(1058.80 1167.50) scale(1.0 1.04)" font-size="32.4" text-anchor="start" font-weight="normal" fill="#000" >PtdCho</text>
<rect x="900.40" y="1258.10" width="60.20" height="5.40" fill="#000" />
<rect x="982.20" y="1258.10" width="60.70" height="5.40" fill="#000" />
<text transform="translate(889.40 1304.20) scale(1.0 1.06)" font-size="41" text-anchor="end" font-weight="normal" fill="#000" >aTc:</text>
<text transform="translate(929.30 1304.20) scale(1.15 1.04)" font-size="41" text-anchor="middle" font-weight="normal" fill="#000" >-</text>
<text transform="translate(1012.30 1303.50) scale(1.0 1.04)" font-size="38.5" text-anchor="middle" font-weight="normal" fill="#000" >+</text>
<rect x="900.30" y="1318.20" width="142.60" height="5.60" fill="#000" />
<text transform="translate(893.20 1366.50) scale(1.1 1.04)" font-size="40.5" text-anchor="start" font-weight="normal" fill="#000" >&#916;</text>
<text transform="translate(922.20 1366.50) scale(1.0 1.04)" font-size="40" text-anchor="start" font-weight="normal" fill="#000" font-style="italic">tgcds1<tspan font-size="27" dy="2">r</tspan></text>
<text transform="translate(1241.80 688.50) scale(1.1 1.0)" font-size="48" text-anchor="start" font-weight="bold" fill="#000" >e</text>
<rect x="1416.50" y="744.80" width="44.50" height="502.20" fill="#8f8f8f" />
<rect x="1484.30" y="1058.70" width="44.20" height="188.30" fill="#8f8f8f" />
<rect x="1557.20" y="801.40" width="45.40" height="445.60" fill="#8f8f8f" />
<rect x="1626.30" y="1090.20" width="45.70" height="156.80" fill="#8f8f8f" />
<line x1="1539.00" y1="704.30" x2="1539.00" y2="1247.00" stroke="#000" stroke-width="3.2" stroke-linecap="butt" stroke-dasharray="3.6 3.4"/>
<line x1="1405.00" y1="707.95" x2="1405.00" y2="1250.85" stroke="#000" stroke-width="4.5" stroke-linecap="butt" />
<line x1="1396.00" y1="1248.60" x2="1405.00" y2="1248.60" stroke="#000" stroke-width="4.5" stroke-linecap="butt" />
<text transform="translate(1381.50 1257.60) scale(1.0 1.04)" font-size="32.5" text-anchor="end" font-weight="normal" fill="#000" >0</text>
<line x1="1396.00" y1="1140.92" x2="1405.00" y2="1140.92" stroke="#000" stroke-width="4.5" stroke-linecap="butt" />
<text transform="translate(1381.50 1149.92) scale(1.0 1.04)" font-size="32.5" text-anchor="end" font-weight="normal" fill="#000" >0.3</text>
<line x1="1396.00" y1="1033.24" x2="1405.00" y2="1033.24" stroke="#000" stroke-width="4.5" stroke-linecap="butt" />
<text transform="translate(1381.50 1042.24) scale(1.0 1.04)" font-size="32.5" text-anchor="end" font-weight="normal" fill="#000" >0.6</text>
<line x1="1396.00" y1="925.56" x2="1405.00" y2="925.56" stroke="#000" stroke-width="4.5" stroke-linecap="butt" />
<text transform="translate(1381.50 934.56) scale(1.0 1.04)" font-size="32.5" text-anchor="end" font-weight="normal" fill="#000" >0.9</text>
<line x1="1396.00" y1="817.88" x2="1405.00" y2="817.88" stroke="#000" stroke-width="4.5" stroke-linecap="butt" />
<text transform="translate(1381.50 826.88) scale(1.0 1.04)" font-size="32.5" text-anchor="end" font-weight="normal" fill="#000" >1.2</text>
<line x1="1396.00" y1="710.20" x2="1405.00" y2="710.20" stroke="#000" stroke-width="4.5" stroke-linecap="butt" />
<text transform="translate(1381.50 719.20) scale(1.0 1.04)" font-size="32.5" text-anchor="end" font-weight="normal" fill="#000" >1.5</text>
<line x1="1683.70" y1="709.15" x2="1683.70" y2="1251.25" stroke="#000" stroke-width="4.5" stroke-linecap="butt" />
<line x1="1683.70" y1="1249.00" x2="1692.40" y2="1249.00" stroke="#000" stroke-width="4.5" stroke-linecap="butt" />
<text transform="translate(1692.60 1261.60) scale(1.0 1.08)" font-size="33.3" text-anchor="start" font-weight="normal" fill="#000" >0</text>
<line x1="1683.70" y1="1159.40" x2="1692.40" y2="1159.40" stroke="#000" stroke-width="4.5" stroke-linecap="butt" />
<text transform="translate(1692.60 1172.00) scale(1.0 1.08)" font-size="33.3" text-anchor="start" font-weight="normal" fill="#000" >20</text>
<line x1="1683.70" y1="1069.80" x2="1692.40" y2="1069.80" stroke="#000" stroke-width="4.5" stroke-linecap="butt" />
<text transform="translate(1692.60 1082.40) scale(1.0 1.08)" font-size="33.3" text-anchor="start" font-weight="normal" fill="#000" >40</text>
<line x1="1683.70" y1="980.20" x2="1692.40" y2="980.20" stroke="#000" stroke-width="4.5" stroke-linecap="butt" />
<text transform="translate(1692.60 992.80) scale(1.0 1.08)" font-size="33.3" text-anchor="start" font-weight="normal" fill="#000" >60</text>
<line x1="1683.70" y1="890.60" x2="1692.40" y2="890.60" stroke="#000" stroke-width="4.5" stroke-linecap="butt" />
<text transform="translate(1692.60 903.20) scale(1.0 1.08)" font-size="33.3" text-anchor="start" font-weight="normal" fill="#000" >80</text>
<line x1="1683.70" y1="801.00" x2="1692.40" y2="801.00" stroke="#000" stroke-width="4.5" stroke-linecap="butt" />
<text transform="translate(1692.60 813.60) scale(1.0 1.08)" font-size="33.3" text-anchor="start" font-weight="normal" fill="#000" >100</text>
<line x1="1683.70" y1="711.40" x2="1692.40" y2="711.40" stroke="#000" stroke-width="4.5" stroke-linecap="butt" />
<text transform="translate(1692.60 724.00) scale(1.0 1.08)" font-size="33.3" text-anchor="start" font-weight="normal" fill="#000" >120</text>
<line x1="1396.00" y1="1249.00" x2="1539.70" y2="1249.00" stroke="#000" stroke-width="4.5" stroke-linecap="butt" />
<line x1="1545.20" y1="1249.00" x2="1683.70" y2="1249.00" stroke="#000" stroke-width="4.5" stroke-linecap="butt" />
<line x1="1438.50" y1="1249.00" x2="1438.50" y2="1258.20" stroke="#000" stroke-width="4.5" stroke-linecap="butt" />
<line x1="1506.10" y1="1249.00" x2="1506.10" y2="1258.20" stroke="#000" stroke-width="4.5" stroke-linecap="butt" />
<line x1="1579.30" y1="1249.00" x2="1579.30" y2="1258.20" stroke="#000" stroke-width="4.5" stroke-linecap="butt" />
<line x1="1648.20" y1="1249.00" x2="1648.20" y2="1258.20" stroke="#000" stroke-width="4.5" stroke-linecap="butt" />
<line x1="1438.70" y1="731.50" x2="1438.70" y2="758.00" stroke="#000" stroke-width="3.2" stroke-linecap="butt" />
<line x1="1427.60" y1="731.50" x2="1449.80" y2="731.50" stroke="#000" stroke-width="3.2" stroke-linecap="round" />
<line x1="1427.60" y1="758.00" x2="1449.80" y2="758.00" stroke="#000" stroke-width="3.2" stroke-linecap="round" />
<circle cx="1438.7" cy="723.2" r="6.7" fill="#000"/>
<circle cx="1438.7" cy="742.7" r="6.7" fill="#000"/>
<circle cx="1438.7" cy="768.4" r="6.7" fill="#000"/>
<line x1="1579.70" y1="792.00" x2="1579.70" y2="809.70" stroke="#000" stroke-width="3.2" stroke-linecap="butt" />
<line x1="1568.60" y1="792.00" x2="1590.80" y2="792.00" stroke="#000" stroke-width="3.2" stroke-linecap="round" />
<line x1="1568.60" y1="809.70" x2="1590.80" y2="809.70" stroke="#000" stroke-width="3.2" stroke-linecap="round" />
<circle cx="1579.7" cy="783.7" r="6.7" fill="#000"/>
<circle cx="1564.1" cy="810.6" r="6.7" fill="#000"/>
<circle cx="1596" cy="810.6" r="6.7" fill="#000"/>
<line x1="1506.30" y1="1056.00" x2="1506.30" y2="1063.70" stroke="#000" stroke-width="3.2" stroke-linecap="butt" />
<line x1="1495.20" y1="1056.00" x2="1517.40" y2="1056.00" stroke="#000" stroke-width="3.2" stroke-linecap="round" />
<line x1="1495.20" y1="1063.70" x2="1517.40" y2="1063.70" stroke="#000" stroke-width="3.2" stroke-linecap="round" />
<rect x="1484.30" y="1045.10" width="13.60" height="13.60" fill="#000" />
<rect x="1514.90" y="1045.10" width="13.60" height="13.60" fill="#000" />
<rect x="1499.30" y="1062.90" width="13.60" height="13.60" fill="#000" />
<line x1="1649.20" y1="1078.50" x2="1649.20" y2="1082.50" stroke="#000" stroke-width="3.2" stroke-linecap="butt" />
<line x1="1638.10" y1="1078.50" x2="1660.30" y2="1078.50" stroke="#000" stroke-width="3.2" stroke-linecap="round" />
<line x1="1638.10" y1="1082.50" x2="1660.30" y2="1082.50" stroke="#000" stroke-width="3.2" stroke-linecap="round" />
<rect x="1626.40" y="1077.90" width="13.60" height="13.60" fill="#000" />
<rect x="1642.20" y="1068.30" width="13.60" height="13.60" fill="#000" />
<rect x="1657.80" y="1073.80" width="13.60" height="13.60" fill="#000" />
<text transform="translate(1383.40 1292.60) scale(1.0 1.04)" font-size="41" text-anchor="end" font-weight="normal" fill="#000" >aTc:</text>
<text transform="translate(1422.80 1292.60) scale(1.0 1.04)" font-size="39.5" text-anchor="middle" font-weight="normal" fill="#000" >-</text>
<text transform="translate(1578.50 1292.60) scale(1.0 1.04)" font-size="39.5" text-anchor="middle" font-weight="normal" fill="#000" >-</text>
<text transform="translate(1507.50 1292.60) scale(1.0 1.04)" font-size="39.5" text-anchor="middle" font-weight="normal" fill="#000" >+</text>
<text transform="translate(1651.70 1292.60) scale(1.0 1.04)" font-size="39.5" text-anchor="middle" font-weight="normal" fill="#000" >+</text>
<rect x="1403.50" y="1310.10" width="271.20" height="3.80" fill="#000" />
<text transform="translate(1465.90 1357.90) scale(1.0 1.04)" font-size="36.3" text-anchor="start" font-weight="normal" fill="#000" >&#916;</text>
<text transform="translate(1489.90 1357.90) scale(1.0 1.04)" font-size="37" text-anchor="start" font-weight="normal" fill="#000" font-style="italic">tgcds1<tspan font-size="29" dy="11.7">r</tspan></text>
<text transform="translate(1304.30 971.50) rotate(-90) scale(0.993 1.04)" font-size="36.3" text-anchor="middle">[<tspan font-size="24.4" dy="-8.5">3</tspan><tspan dy="8.5">H]-PtdIns (CPM <tspan font-size="52.5" dy="6">&#215;</tspan><tspan dy="-6"> 10</tspan></tspan><tspan font-size="24.4" dy="-8.5">4</tspan><tspan dy="8.5">)</tspan></text>
<text transform="translate(1767.60 973.10) rotate(90) scale(0.96 1.04)" font-size="33.4" text-anchor="middle">PtdIns Amount <tspan dy="-6">(%)</tspan></text>
</svg>
</body></html>
